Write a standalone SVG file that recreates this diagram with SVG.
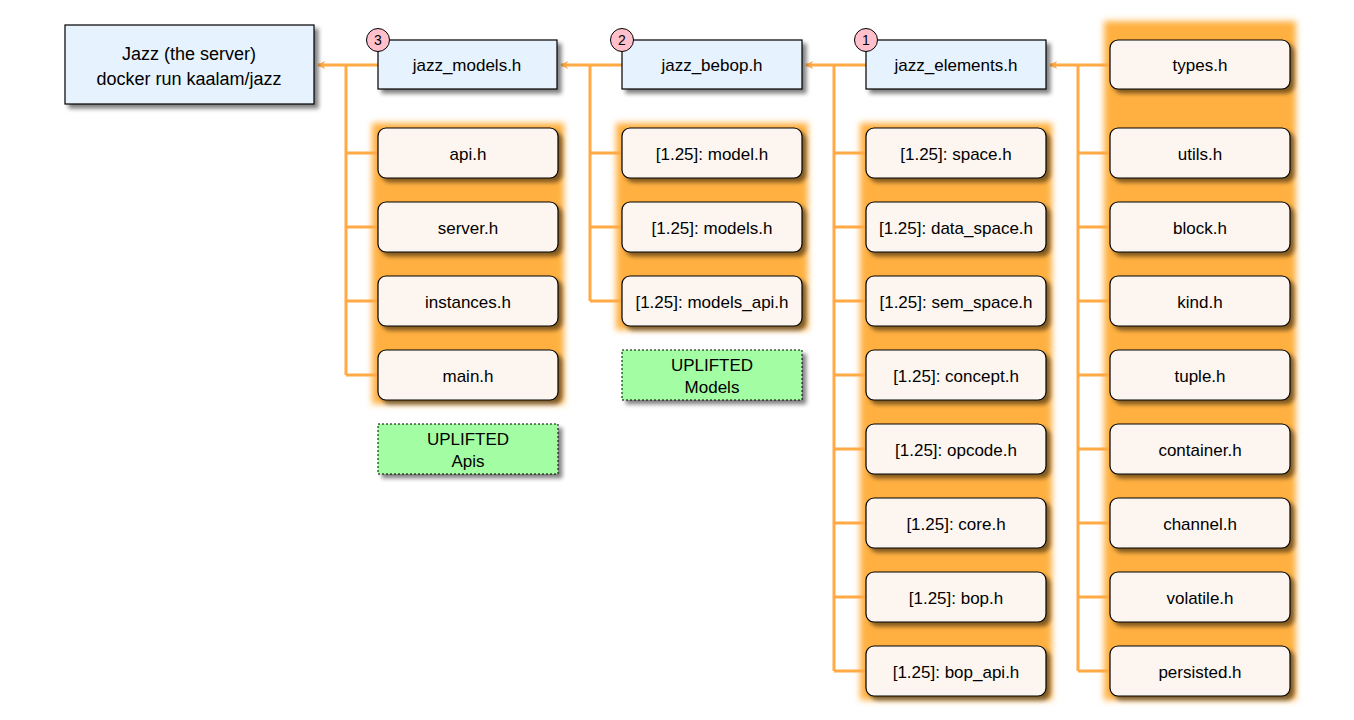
<svg xmlns="http://www.w3.org/2000/svg" width="1354" height="720" viewBox="0 0 1354 720">
<defs>
<filter id="shadow" x="-10%" y="-20%" width="130%" height="160%">
<feGaussianBlur in="SourceAlpha" stdDeviation="2"/>
<feOffset dx="4" dy="4" result="b"/>
<feComponentTransfer><feFuncA type="linear" slope="0.5"/></feComponentTransfer>
<feMerge><feMergeNode/><feMergeNode in="SourceGraphic"/></feMerge>
</filter>
<filter id="glow" x="-10%" y="-5%" width="120%" height="110%">
<feGaussianBlur stdDeviation="3"/>
</filter>
<marker id="arr" viewBox="0 0 10 10" refX="9" refY="5" markerWidth="8" markerHeight="8" markerUnits="userSpaceOnUse" orient="auto">
<path d="M0,0 L10,5 L0,10 L3,5 Z" fill="#ffaa44"/>
</marker>
</defs>
<style>
text{font-family:"Liberation Sans","DejaVu Sans",sans-serif;font-size:17px;fill:#000;text-anchor:middle;}
.big{font-size:18px;}
.blue{fill:#e6f2fd;stroke:#000;stroke-width:1.2;filter:url(#shadow);}
.leaf{fill:#fdf6f0;stroke:#000;stroke-width:1.2;filter:url(#shadow);}
.note{fill:#a3fea3;stroke:#000;stroke-width:1;stroke-dasharray:2,2;filter:url(#shadow);}
.badge{fill:#ffc0cb;stroke:#000;stroke-width:1;}
.bt{font-size:14px;}
.glow{fill:#ffb040;filter:url(#glow);}
.c{fill:none;stroke:#ffaa44;stroke-width:3;}
</style>
<rect width="1354" height="720" fill="#fff"/>
<g id="glows">
<rect class="glow" x="1104" y="21" width="192" height="679"/>
<rect class="glow" x="860" y="123" width="192" height="577"/>
<rect class="glow" x="616" y="123" width="192" height="207"/>
<rect class="glow" x="372" y="123" width="192" height="281"/>
</g>
<g id="connectors">
<path class="c" d="M378,65 H318" marker-end="url(#arr)"/>
<path class="c" d="M346,65 V375 M346,153 H378 M346,227 H378 M346,301 H378 M346,375 H378"/>
<path class="c" d="M622,65 H561" marker-end="url(#arr)"/>
<path class="c" d="M590,65 V301 M590,153 H622 M590,227 H622 M590,301 H622"/>
<path class="c" d="M866,65 H806" marker-end="url(#arr)"/>
<path class="c" d="M834,65 V671 M834,153 H866 M834,227 H866 M834,301 H866 M834,375 H866 M834,449 H866 M834,523 H866 M834,597 H866 M834,671 H866"/>
<path class="c" d="M1110,65 H1050" marker-end="url(#arr)"/>
<path class="c" d="M1078,65 V671 M1078,153 H1110 M1078,227 H1110 M1078,301 H1110 M1078,375 H1110 M1078,449 H1110 M1078,523 H1110 M1078,597 H1110 M1078,671 H1110"/>
</g>
<g id="server"><rect class="blue" x="65" y="25" width="249" height="79"/><text class="big" x="189" y="60">Jazz (the server)</text><text class="big" x="189" y="85">docker run kaalam/jazz</text></g>
<g id="jazz_models"><rect class="blue" x="378" y="40" width="179" height="49"/><text x="467" y="71">jazz_models.h</text><circle class="badge" cx="378" cy="40" r="11.5"/><text class="bt" x="378" y="45">3</text></g>
<g id="jazz_bebop"><rect class="blue" x="622" y="40" width="180" height="49"/><text x="712" y="71">jazz_bebop.h</text><circle class="badge" cx="622" cy="40" r="11.5"/><text class="bt" x="622" y="45">2</text></g>
<g id="jazz_elements"><rect class="blue" x="866" y="40" width="180" height="49"/><text x="956" y="71">jazz_elements.h</text><circle class="badge" cx="866" cy="40" r="11.5"/><text class="bt" x="866" y="45">1</text></g>
<g id="api"><rect class="leaf" x="378" y="128" width="180" height="50" rx="8"/><text x="468" y="160">api.h</text></g>
<g id="server_h"><rect class="leaf" x="378" y="202" width="180" height="50" rx="8"/><text x="468" y="234">server.h</text></g>
<g id="instances"><rect class="leaf" x="378" y="276" width="180" height="50" rx="8"/><text x="468" y="308">instances.h</text></g>
<g id="main"><rect class="leaf" x="378" y="350" width="180" height="50" rx="8"/><text x="468" y="382">main.h</text></g>
<g id="note_apis"><rect class="note" x="378" y="424" width="180" height="50"/><text x="468" y="445">UPLIFTED</text><text x="468" y="467">Apis</text></g>
<g id="model"><rect class="leaf" x="622" y="128" width="180" height="50" rx="8"/><text x="712" y="160">[1.25]: model.h</text></g>
<g id="models"><rect class="leaf" x="622" y="202" width="180" height="50" rx="8"/><text x="712" y="234">[1.25]: models.h</text></g>
<g id="models_api"><rect class="leaf" x="622" y="276" width="180" height="50" rx="8"/><text x="712" y="308">[1.25]: models_api.h</text></g>
<g id="note_models"><rect class="note" x="622" y="350" width="180" height="50"/><text x="712" y="371">UPLIFTED</text><text x="712" y="393">Models</text></g>
<g id="space"><rect class="leaf" x="866" y="128" width="180" height="50" rx="8"/><text x="956" y="160">[1.25]: space.h</text></g>
<g id="data_space"><rect class="leaf" x="866" y="202" width="180" height="50" rx="8"/><text x="956" y="234">[1.25]: data_space.h</text></g>
<g id="sem_space"><rect class="leaf" x="866" y="276" width="180" height="50" rx="8"/><text x="956" y="308">[1.25]: sem_space.h</text></g>
<g id="concept"><rect class="leaf" x="866" y="350" width="180" height="50" rx="8"/><text x="956" y="382">[1.25]: concept.h</text></g>
<g id="opcode"><rect class="leaf" x="866" y="424" width="180" height="50" rx="8"/><text x="956" y="456">[1.25]: opcode.h</text></g>
<g id="core"><rect class="leaf" x="866" y="498" width="180" height="50" rx="8"/><text x="956" y="530">[1.25]: core.h</text></g>
<g id="bop"><rect class="leaf" x="866" y="572" width="180" height="50" rx="8"/><text x="956" y="604">[1.25]: bop.h</text></g>
<g id="bop_api"><rect class="leaf" x="866" y="646" width="180" height="50" rx="8"/><text x="956" y="678">[1.25]: bop_api.h</text></g>
<g id="types"><rect class="leaf" x="1110" y="40" width="180" height="49" rx="8"/><text x="1200" y="71">types.h</text></g>
<g id="utils"><rect class="leaf" x="1110" y="128" width="180" height="50" rx="8"/><text x="1200" y="160">utils.h</text></g>
<g id="block"><rect class="leaf" x="1110" y="202" width="180" height="50" rx="8"/><text x="1200" y="234">block.h</text></g>
<g id="kind"><rect class="leaf" x="1110" y="276" width="180" height="50" rx="8"/><text x="1200" y="308">kind.h</text></g>
<g id="tuple"><rect class="leaf" x="1110" y="350" width="180" height="50" rx="8"/><text x="1200" y="382">tuple.h</text></g>
<g id="container"><rect class="leaf" x="1110" y="424" width="180" height="50" rx="8"/><text x="1200" y="456">container.h</text></g>
<g id="channel"><rect class="leaf" x="1110" y="498" width="180" height="50" rx="8"/><text x="1200" y="530">channel.h</text></g>
<g id="volatile"><rect class="leaf" x="1110" y="572" width="180" height="50" rx="8"/><text x="1200" y="604">volatile.h</text></g>
<g id="persisted"><rect class="leaf" x="1110" y="646" width="180" height="50" rx="8"/><text x="1200" y="678">persisted.h</text></g>
</svg>
